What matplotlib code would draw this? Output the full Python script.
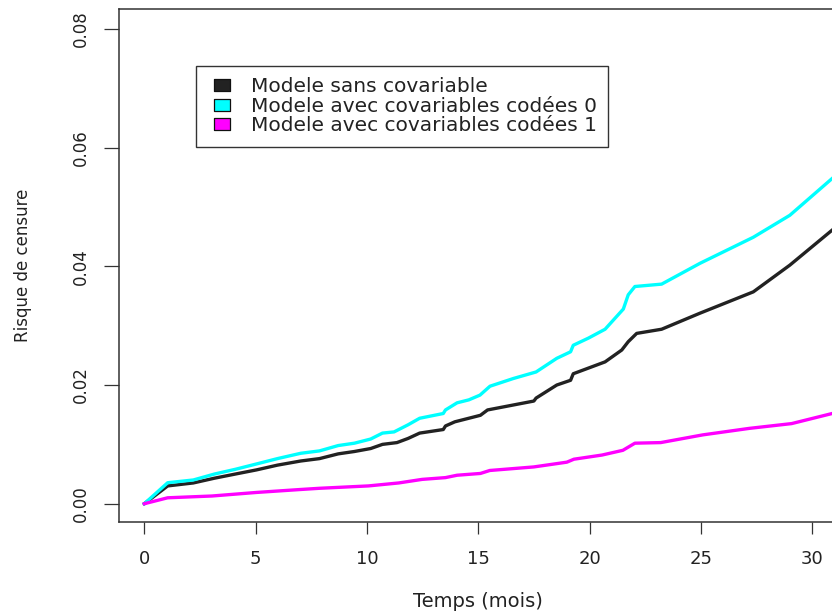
import matplotlib
matplotlib.use("Agg")
import matplotlib.pyplot as plt
from matplotlib.lines import Line2D
from matplotlib.path import Path

# cumulative hazard of censoring
temps_sans = [0, 1.05, 2.2, 3.15, 4.09, 5.04, 5.98, 7.03, 7.87, 8.71, 9.44, 10.17,
              10.7, 11.35, 11.85, 12.37, 13.43, 13.53, 13.95, 15.1, 15.42, 17.5,
              17.6, 18.53, 19.15, 19.27, 20.7, 21.45, 21.74, 22.12, 23.24, 24.96,
              27.36, 29.0, 30.9, 31.3]
risque_sans = [0, 0.0030, 0.0035, 0.0043, 0.0050, 0.0057, 0.0065, 0.0072, 0.0076,
               0.0084, 0.0088, 0.0093, 0.0100, 0.0103, 0.0110, 0.0119, 0.0125,
               0.0131, 0.0138, 0.0149, 0.0158, 0.0173, 0.0178, 0.0200, 0.0208,
               0.0219, 0.0239, 0.0259, 0.0273, 0.0287, 0.0294, 0.0321, 0.0357,
               0.0402, 0.0461, 0.0473]

temps_cov0 = [0, 1.05, 2.2, 3.15, 4.09, 5.04, 5.98, 7.03, 7.87, 8.71, 9.44, 10.17,
              10.7, 11.22, 11.85, 12.37, 13.43, 13.53, 14.05, 14.58, 15.08, 15.53,
              16.58, 17.6, 18.53, 19.15, 19.27, 19.95, 20.7, 21.52, 21.74, 22.04,
              23.24, 24.96, 27.36, 29.0, 30.9, 31.3]
risque_cov0 = [0, 0.00354, 0.0040, 0.0050, 0.0058, 0.0067, 0.0076, 0.0085, 0.0089,
               0.0098, 0.0102, 0.0109, 0.0119, 0.0121, 0.0133, 0.0144, 0.0152,
               0.0158, 0.0170, 0.0175, 0.0183, 0.0198, 0.0211, 0.0222, 0.0245,
               0.0256, 0.0267, 0.0279, 0.0294, 0.0328, 0.0352, 0.0366, 0.0370,
               0.0405, 0.0449, 0.0486, 0.0548, 0.0561]

temps_cov1 = [0, 1.05, 3.04, 5.04, 7.03, 7.87, 10.07, 11.43, 12.48, 13.53, 14.05,
              15.1, 15.52, 17.5, 18.98, 19.3, 20.56, 21.5, 22.04, 23.2, 25.09,
              27.19, 29.08, 30.9, 31.3]
risque_cov1 = [0, 0.0010, 0.0013, 0.0019, 0.0024, 0.0026, 0.0030, 0.0035, 0.0041,
               0.0044, 0.0048, 0.0051, 0.0056, 0.0062, 0.0070, 0.0075, 0.0082,
               0.0090, 0.0102, 0.0103, 0.0116, 0.0127, 0.0135, 0.0152, 0.0156]

labels = ["Modele sans covariable",
          "Modele avec covariables codées 0",
          "Modele avec covariables codées 1"]
couleurs = ["#222222", "#00ffff", "#ff00ff"]

x_ticks = [0, 5, 10, 15, 20, 25, 30]
y_ticks = [0.00, 0.02, 0.04, 0.06, 0.08]

plt.rcParams["font.family"] = ["DejaVu Sans"]

W, H = 832, 612
fig = plt.figure(figsize=(W / 100, H / 100), dpi=100)
# plot region in pixels: left 119, right cut by the image edge, top 9.4, bottom 522
ax = fig.add_axes([119 / W, (H - 522) / H, (W - 119) / W, (522 - 9.4) / H])

ax.plot(temps_sans, risque_sans, color=couleurs[0], lw=2.4, solid_joinstyle="round")
ax.plot(temps_cov0, risque_cov0, color=couleurs[1], lw=2.4, solid_joinstyle="round")
ax.plot(temps_cov1, risque_cov1, color=couleurs[2], lw=2.4, solid_joinstyle="round")

ax.set_xlim(-1.137, 30.894)
ax.set_ylim(-0.00308, 0.08329)

ax.set_xticks(x_ticks)
ax.set_xticklabels([str(v) for v in x_ticks])
ax.set_yticks(y_ticks)
ax.set_yticklabels(["%.2f" % v for v in y_ticks])

for side in ["left", "top", "bottom"]:
    ax.spines[side].set_color("#333333")
    ax.spines[side].set_linewidth(1.1)
ax.spines["right"].set_visible(False)

ax.tick_params(axis="x", length=8.6, width=0.9, color="#333333", pad=11.8,
               labelsize=13, labelcolor="#222222")
ax.tick_params(axis="y", length=10.8, width=0.9, color="#333333", pad=10.4,
               labelsize=12, labelcolor="#222222", labelrotation=90)
for lab in ax.get_yticklabels():
    lab.set_va("center")

ax.set_xlabel("Temps (mois)", fontsize=14, color="#222222")
ax.xaxis.set_label_coords(0.504, -0.1366)
ax.set_ylabel("Risque de censure", fontsize=12, color="#222222")
ax.yaxis.set_label_coords(-0.122, 0.5)

# legend keys: flat filled rectangles like R's fill boxes
rect = Path([(-1, -0.7), (1, -0.7), (1, 0.7), (-1, 0.7), (-1, -0.7)], closed=True)
handles = [Line2D([], [], linestyle="none", marker=rect, markersize=12,
                  markerfacecolor=c, markeredgecolor="#111111", markeredgewidth=0.9)
           for c in couleurs]
leg = ax.legend(handles, labels, loc="upper left",
                bbox_to_anchor=(195.7 / W, 1 - 65.7 / H), bbox_transform=fig.transFigure,
                fontsize=14.5, frameon=True, fancybox=False, framealpha=1,
                edgecolor="#333333", borderpad=0.56, labelspacing=0.035,
                handlelength=1.54, handletextpad=0.63, borderaxespad=0)
leg.get_frame().set_linewidth(1.0)
for t in leg.get_texts():
    t.set_color("#222222")

fig.savefig("out.png", dpi=100)
